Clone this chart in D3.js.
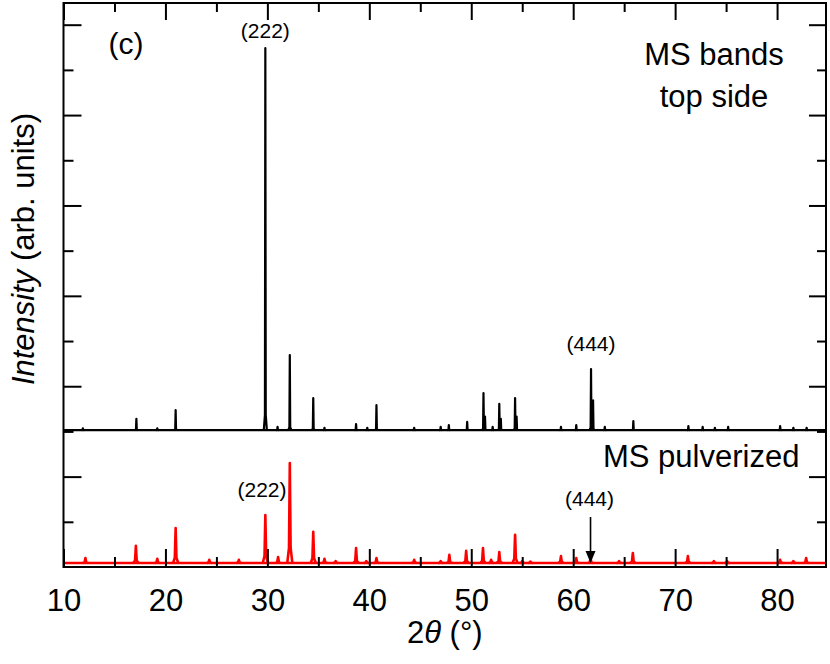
<!DOCTYPE html>
<html>
<head>
<meta charset="utf-8">
<script src="https://cdn.jsdelivr.net/npm/d3@7"></script>
<style>
  body { margin: 0; background: #fff; }
  svg { display: block; }
  text { font-family: "Liberation Sans", Arial, sans-serif; fill: #000; }
</style>
</head>
<body>
<script>
// peaks: [2theta, height above the curve's baseline (y units)]
var topPeaks = [
  [11.9, 0.04], [17.15, 0.25], [19.2, 0.04], [21.0, 0.44], [29.8, 8.45],
  [31.0, 0.07], [32.2, 1.66], [34.5, 0.71], [35.6, 0.05], [38.7, 0.13],
  [39.8, 0.05], [40.7, 0.55], [44.4, 0.05], [47.0, 0.07], [47.8, 0.11],
  [49.6, 0.18], [51.2, 0.82], [51.35, 0.30], [52.1, 0.07], [52.75, 0.58],
  [52.9, 0.25], [54.3, 0.71], [54.45, 0.30], [58.8, 0.07], [60.3, 0.11],
  [61.75, 1.35], [61.95, 0.66], [63.1, 0.07], [65.9, 0.20], [71.3, 0.09],
  [72.7, 0.07], [73.9, 0.05], [75.2, 0.07], [80.3, 0.09], [81.6, 0.05],
  [82.9, 0.05]
];
var pulvPeaks = [
  [12.15, 0.11], [17.1, 0.38], [19.2, 0.09], [21.0, 0.77], [24.3, 0.07],
  [27.2, 0.07], [29.8, 1.06], [31.05, 0.13], [32.2, 2.21], [34.5, 0.69],
  [35.6, 0.09], [36.7, 0.04], [38.7, 0.33], [39.7, 0.04], [40.7, 0.11],
  [44.4, 0.07], [47.0, 0.04], [47.85, 0.18], [49.5, 0.27], [51.15, 0.33],
  [51.95, 0.07], [52.75, 0.24], [54.3, 0.62], [55.0, 0.04], [55.8, 0.03],
  [58.8, 0.15], [60.3, 0.11], [61.7, 0.11], [64.5, 0.04], [65.85, 0.22],
  [71.25, 0.15], [73.8, 0.04], [75.1, 0.04], [80.3, 0.07], [81.6, 0.04],
  [82.85, 0.11]
];
var topBase = 3.03, pulvBase = 0.09;
var xDomain = [10, 84.8], yDomain = [0, 12.48];
var xMajor = [10, 20, 30, 40, 50, 60, 70, 80];
var xMinor = [15, 25, 35, 45, 55, 65, 75];
var yMajor = [2, 4, 6, 8, 10, 12];
var yMinor = [1, 3, 5, 7, 9, 11];
var arrowAt = 61.7;

var width = 830, height = 664;
var mLeft = 63.5, mRight = 826, mTop = 3, mBottom = 567;

var svg = d3.select("body").append("svg")
    .attr("width", width)
    .attr("height", height);

var x = d3.scaleLinear().domain(xDomain).range([mLeft, mRight]);
var y = d3.scaleLinear().domain(yDomain).range([mBottom, mTop]);

var line = d3.line().x(d => x(d[0])).y(d => y(d[1]));

// a spike per peak, narrow for the film, wider for the powder
function spike(p, base, w1, w2, f) {
  return [[p[0] - w2, base], [p[0] - w1, base + f * p[1]], [p[0], base + p[1]],
          [p[0] + w1, base + f * p[1]], [p[0] + w2, base]];
}

function drawPattern(peaks, base, color, sw, w1, w2, f) {
  var g = svg.append("g")
      .attr("fill", "none")
      .attr("stroke", color)
      .attr("stroke-width", sw)
      .attr("stroke-linejoin", "round");
  g.append("path").attr("d", line([[xDomain[0], base], [xDomain[1], base]]));
  g.selectAll("path.pk")
    .data(peaks)
    .enter()
    .append("path")
    .attr("class", "pk")
    .attr("d", p => line(spike(p, base, w1, w2, f)));
}

drawPattern(pulvPeaks, pulvBase, "#ff0000", 2.6, 0.08, 0.25, 0.15);
drawPattern(topPeaks, topBase, "#000", 2.2, 0.04, 0.15, 0.04);

// axes, ticks pointing inward on all four sides
function axisPair(make, scale, major, minor, majLen, minLen, transform, labels) {
  var a = svg.append("g").attr("transform", transform)
      .call(make(scale).tickValues(major).tickSizeInner(-majLen).tickSizeOuter(0)
        .tickPadding(labels ? 22 : 0).tickFormat(labels ? d3.format("d") : ""));
  var b = svg.append("g").attr("transform", transform)
      .call(make(scale).tickValues(minor).tickSizeInner(-minLen).tickSizeOuter(0)
        .tickFormat(""));
  [a, b].forEach(function(g) {
    g.select(".domain").remove();
    g.selectAll(".tick line").attr("stroke", "#000").attr("stroke-width", 2);
  });
  a.selectAll("text").attr("font-size", 31).attr("font-family", "Liberation Sans, Arial, sans-serif");
}
axisPair(d3.axisBottom, x, xMajor, xMinor, 18, 10, "translate(0," + mBottom + ")", true);
axisPair(d3.axisTop, x, xMajor, xMinor, 17, 9, "translate(0," + mTop + ")", false);
axisPair(d3.axisLeft, y, yMajor, yMinor, 18, 10, "translate(" + mLeft + ",0)", false);
axisPair(d3.axisRight, y, yMajor, yMinor, 17, 9, "translate(" + mRight + ",0)", false);

svg.append("rect")
  .attr("x", mLeft).attr("y", mTop)
  .attr("width", mRight - mLeft).attr("height", mBottom - mTop)
  .attr("fill", "none").attr("stroke", "#000").attr("stroke-width", 2);

// axis titles
var yt = svg.append("text")
  .attr("transform", "translate(34,249) rotate(-90)")
  .attr("text-anchor", "middle")
  .attr("font-size", 31);
yt.append("tspan").attr("font-style", "italic").text("Intensity");
yt.append("tspan").text(" (arb. units)");

var xt = svg.append("text")
  .attr("x", (mLeft + mRight) / 2).attr("y", 643)
  .attr("text-anchor", "middle")
  .attr("font-size", 31);
xt.append("tspan").text("2");
xt.append("tspan").attr("font-style", "italic").text("θ");
xt.append("tspan").text(" (°)");

// annotations
function label(t, px, py, size, anchor) {
  svg.append("text").attr("x", px).attr("y", py)
    .attr("font-size", size).attr("text-anchor", anchor || "middle").text(t);
}
label("(c)", 126, 54, 30);
label("(222)", x(29.8), 38, 21);
label("(444)", x(61.75), 351, 21);
label("MS bands", 714, 65, 31);
label("top side", 714, 107, 31);
label("MS pulverized", 603, 467, 31, "start");
label("(222)", 262, 497, 21);
label("(444)", x(arrowAt) - 1, 506, 21);

// arrow down to the pulverized (444) peak
var ax = x(arrowAt);
svg.append("line")
  .attr("x1", ax).attr("x2", ax).attr("y1", 517).attr("y2", 553)
  .attr("stroke", "#000").attr("stroke-width", 1.6);
svg.append("path")
  .attr("d", "M" + (ax - 5) + ",551L" + (ax + 5) + ",551L" + ax + ",563Z")
  .attr("fill", "#000");
</script>
</body>
</html>
